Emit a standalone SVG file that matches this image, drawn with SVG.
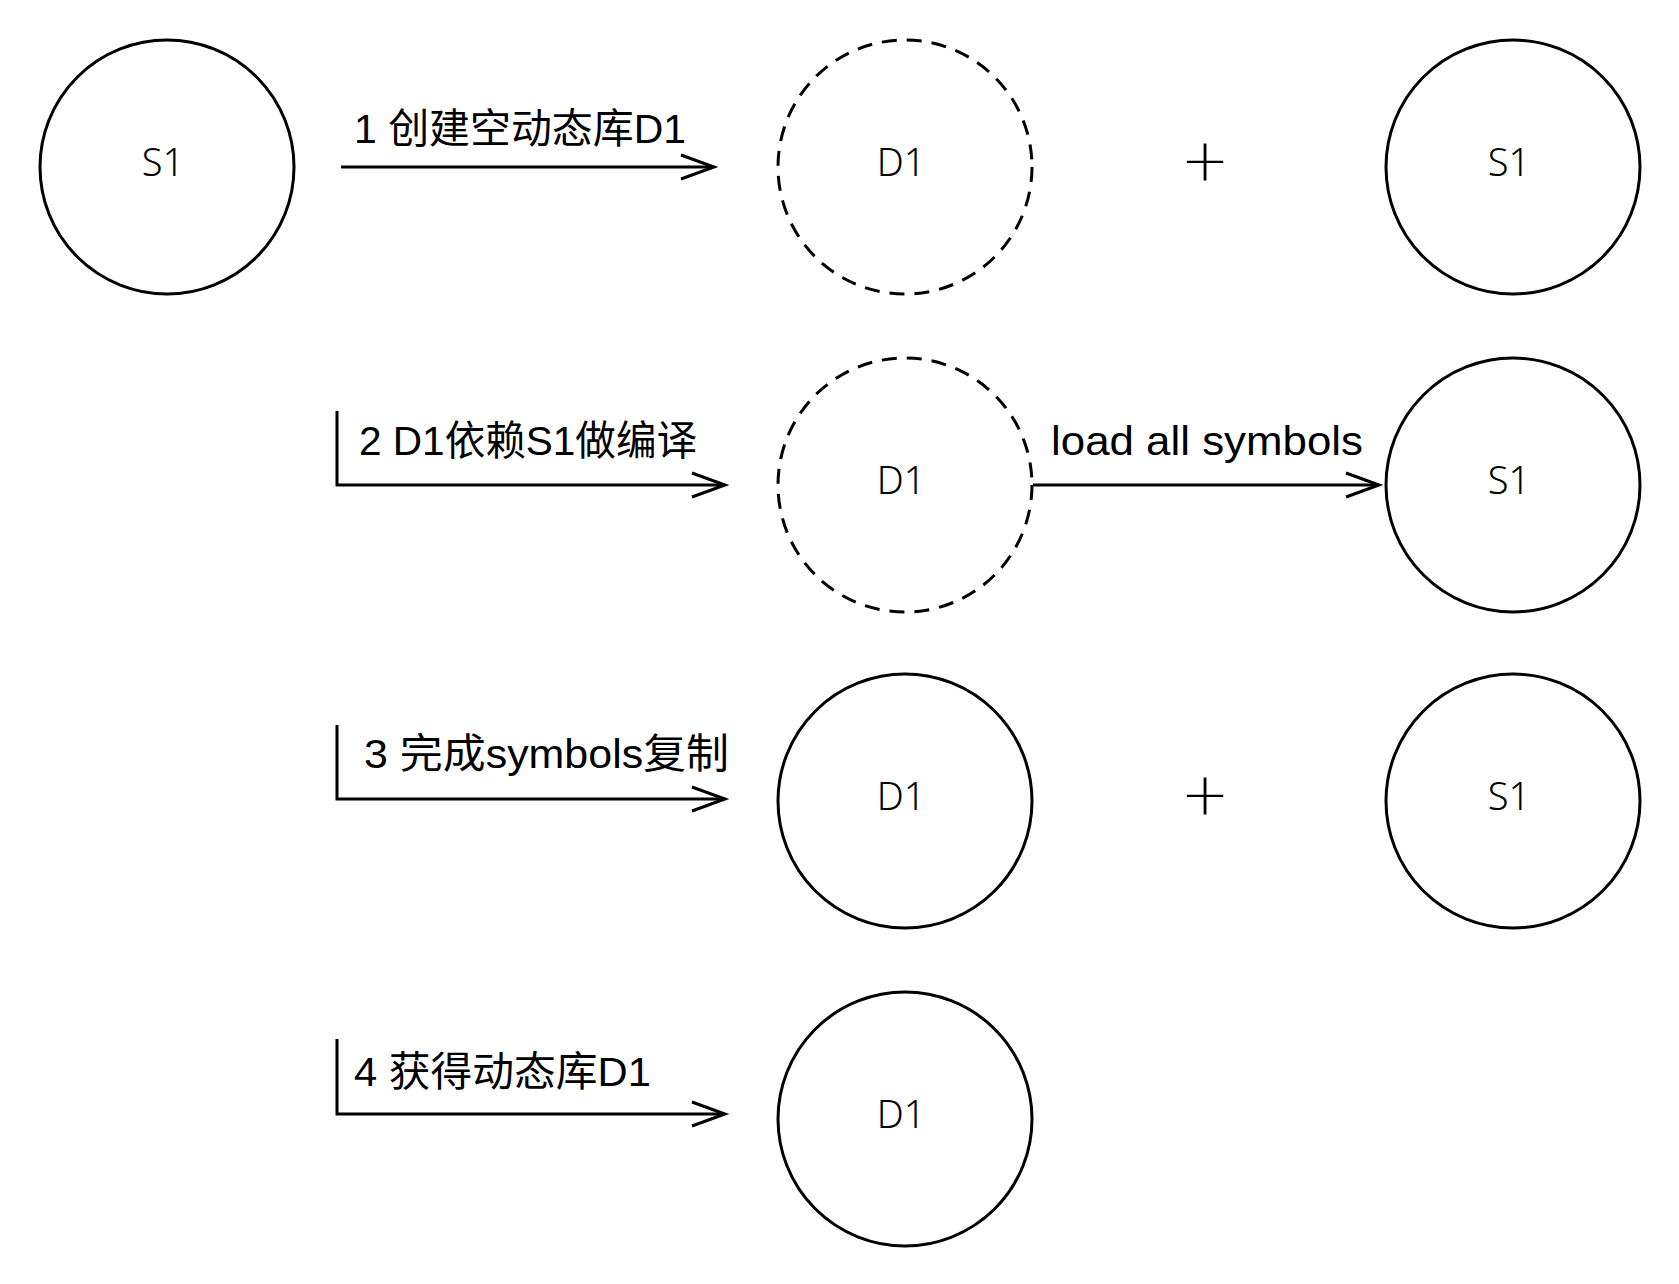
<svg xmlns="http://www.w3.org/2000/svg" width="1679" height="1284" viewBox="0 0 1679 1284">
<defs>
<style>
.node{fill:#fff;stroke:#000;stroke-width:3}
.dash{stroke-dasharray:15 10}
.nl{font-family:"Noto Sans","Liberation Sans",sans-serif;font-weight:300;font-size:38px;text-anchor:middle;fill:#000}
.lbl{font-family:"Liberation Sans","Noto Sans CJK SC",sans-serif;font-size:41px;fill:#000}
.plus{font-family:"DejaVu Sans",sans-serif;font-weight:200;font-size:58px;text-anchor:middle;fill:#000}
.edge{fill:none;stroke:#000;stroke-width:3}
</style>
<marker id="arr" markerUnits="userSpaceOnUse" markerWidth="40" markerHeight="30" refX="35" refY="14" orient="auto">
<path d="M2,2 L35,14 L2,26" fill="none" stroke="#000" stroke-width="3"/>
</marker>
</defs>
<rect width="1679" height="1284" fill="#fff"/>
<g id="connectors">
<path class="edge" d="M341,167 H714" marker-end="url(#arr)"/>
<path class="edge" d="M337,411 V485 H725" marker-end="url(#arr)"/>
<path class="edge" d="M1033,485 H1379" marker-end="url(#arr)"/>
<path class="edge" d="M337,725 V799 H725" marker-end="url(#arr)"/>
<path class="edge" d="M337,1039 V1114 H725" marker-end="url(#arr)"/>
<text class="lbl" x="354" y="143" textLength="332" lengthAdjust="spacingAndGlyphs">1 创建空动态库D1</text>
<text class="lbl" x="359" y="455" textLength="338" lengthAdjust="spacingAndGlyphs">2 D1依赖S1做编译</text>
<text class="lbl" x="1051" y="455" textLength="312" lengthAdjust="spacingAndGlyphs">load all symbols</text>
<text class="lbl" x="364" y="768" textLength="365" lengthAdjust="spacingAndGlyphs">3 完成symbols复制</text>
<text class="lbl" x="354" y="1086" textLength="297" lengthAdjust="spacingAndGlyphs">4 获得动态库D1</text>
</g>
<g id="s1-a"><circle class="node" cx="167" cy="167" r="127"/><text class="nl" x="163" y="176">S1</text></g>
<g id="d1-a"><circle class="node dash" cx="905" cy="167" r="127"/><text class="nl" x="901" y="176">D1</text></g>
<g id="plus-a"><text class="plus" x="1205" y="180">+</text></g>
<g id="s1-b"><circle class="node" cx="1513" cy="167" r="127"/><text class="nl" x="1509" y="176">S1</text></g>
<g id="d1-b"><circle class="node dash" cx="905" cy="485" r="127"/><text class="nl" x="901" y="494">D1</text></g>
<g id="s1-c"><circle class="node" cx="1513" cy="485" r="127"/><text class="nl" x="1509" y="494">S1</text></g>
<g id="d1-c"><circle class="node" cx="905" cy="801" r="127"/><text class="nl" x="901" y="810">D1</text></g>
<g id="plus-b"><text class="plus" x="1205" y="814">+</text></g>
<g id="s1-d"><circle class="node" cx="1513" cy="801" r="127"/><text class="nl" x="1509" y="810">S1</text></g>
<g id="d1-d"><circle class="node" cx="905" cy="1119" r="127"/><text class="nl" x="901" y="1128">D1</text></g>
</svg>
